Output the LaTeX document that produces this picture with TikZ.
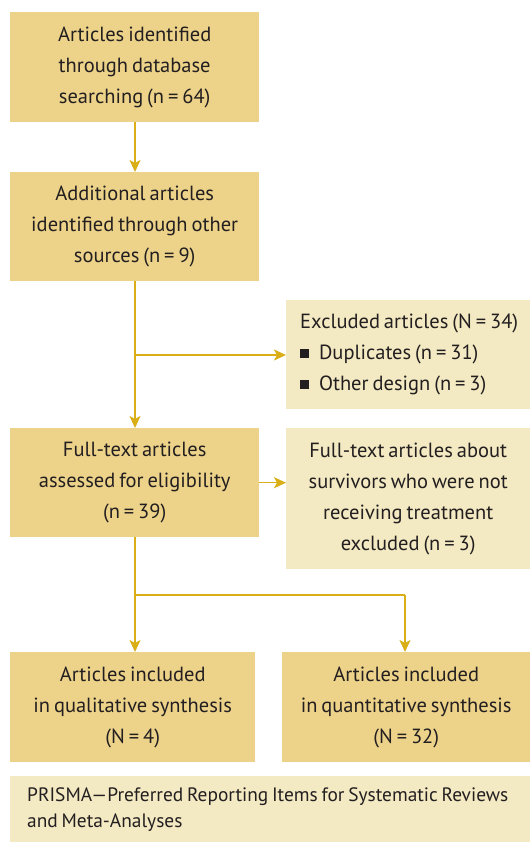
\documentclass[tikz,border=0pt]{standalone}
\usepackage{fontspec}
\setmainfont[WordSpace=0.72]{PT Sans}
\usetikzlibrary{positioning,arrows.meta}
\definecolor{boxdark}{HTML}{EDD38A}
\definecolor{boxlight}{HTML}{F3E9C2}
\definecolor{flowline}{HTML}{D9AE17}
\definecolor{ink}{HTML}{231F20}
\newcommand{\sqbullet}{\rule[0.1em]{0.42em}{0.42em}\hspace{0.5em}}
\newcommand{\fontspaces}{\spaceskip=\fontdimen2\font\xspaceskip=\fontdimen2\font\relax}
\tikzset{
  mainbox/.style={fill=boxdark, text=ink, inner sep=0pt, align=center,
    anchor=north west, font=\fontsize{20.5}{31}\selectfont},
  sidebox/.style={mainbox, fill=boxlight},
  flow/.style={draw=flowline, line width=1.5pt, -{Stealth[length=12pt,width=11pt,inset=3pt]}},
  flowplain/.style={draw=flowline, line width=1.5pt}
}

\begin{document}
\begin{tikzpicture}[x=1pt,y=-1pt]
  \useasboundingbox (0,0) rectangle (530,842);

  % left column
  \node[mainbox, minimum width=249pt, minimum height=110pt] (search) at (10,12)
    {Articles identified\\through database\\searching (n = 64)};
  \node[mainbox, minimum width=249pt, minimum height=109pt] (other) at (10,172)
    {Additional articles\\identified through other\\sources (n = 9)};
  \node[mainbox, minimum width=249pt, minimum height=109pt] (full) at (10,428)
    {Full-text articles\\assessed for eligibility\\(n = 39)};

  % right column
  \node[sidebox, minimum width=244pt, minimum height=109pt, align=left,
    text width=216pt] (excl) at (286,300)
    {\fontspaces\mbox{Excluded articles (N = 34)}\\\sqbullet Duplicates (n = 31)\\\sqbullet Other design (n = 3)};
  \node[sidebox, minimum width=244pt, minimum height=141pt] (survivor) at (286,428)
    {Full-text articles about\\survivors who were not\\receiving treatment\\excluded (n = 3)};

  % bottom row
  \node[mainbox, minimum width=245pt, minimum height=110pt] (qual) at (10,652)
    {Articles included\\in qualitative synthesis\\(N = 4)};
  \node[mainbox, minimum width=248pt, minimum height=110pt] (quant) at (282,652)
    {Articles included\\in quantitative synthesis\\(N = 32)};

  % note
  \node[sidebox, minimum width=520pt, minimum height=66pt, align=left,
    text width=486pt, font=\fontsize{19.4}{26}\selectfont] (note) at (10,776)
    {\fontspaces\mbox{PRISMA---Preferred Reporting Items for Systematic Reviews}\\and Meta-Analyses};

  % connectors
  \coordinate (split1) at (135,355);
  \coordinate (split2) at (135,595);
  \coordinate (turn) at (405,595);
  \draw[flow] (search.south -| split1) -- (other.north -| split1);
  \draw[flow] (other.south -| split1) -- (full.north -| split1);
  \draw[flow] (split1) -- (split1 -| excl.west);
  \draw[flow] (full.east) -- (full.east -| survivor.west);
  \draw[flow] (full.south -| split2) -- (qual.north -| split2);
  \draw[flowplain] (split2) -- (turn);
  \draw[flow] (turn) -- (quant.north -| turn);
\end{tikzpicture}
\end{document}
